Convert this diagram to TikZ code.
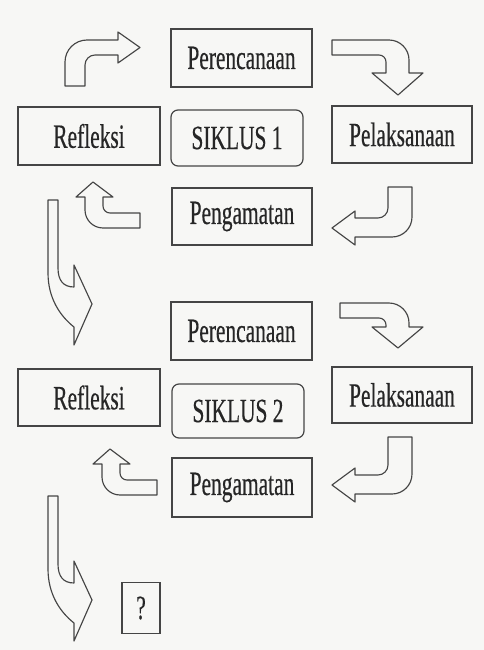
\documentclass[tikz,border=0pt]{standalone}
\usepackage{fontspec}
\newfontfamily\cond[FakeStretch=0.63,FakeBold=0.4]{Liberation Serif}
\definecolor{ln}{HTML}{454545}
\definecolor{bg}{HTML}{F7F7F5}
\definecolor{tx}{HTML}{262626}
\tikzset{
  box/.style={draw=ln, line width=1.2pt, text=tx, inner sep=0pt,
    font=\cond\fontsize{34}{36}\selectfont},
  rbox/.style={box, rounded corners=7pt},
  blk/.style={draw=ln, line width=1.15pt, line join=round}
}
\begin{document}
\begin{tikzpicture}[x=1pt,y=-1pt]
\useasboundingbox (0,0) rectangle (484,650);
\fill[bg] (0,0) rectangle (484,650);
% Siklus 1
\node[box, minimum width=141pt, minimum height=58pt] (p1) at (241.5,58) {Perencanaan};
\node[box, minimum width=142pt, minimum height=58pt] (r1) at (89,136) {Refleksi};
\node[rbox, minimum width=132pt, minimum height=56pt] (s1) at (237,138) {SIKLUS 1};
\node[box, minimum width=140pt, minimum height=57pt] (l1) at (402,134.5) {Pelaksanaan};
\node[box, minimum width=140pt, minimum height=57pt] (g1) at (242,216.5) {Pengamatan};
% Siklus 2
\node[box, minimum width=141pt, minimum height=58pt] (p2) at (241.5,331) {Perencanaan};
\node[box, minimum width=142pt, minimum height=57pt] (r2) at (89,397.5) {Refleksi};
\node[rbox, minimum width=132pt, minimum height=54pt] (s2) at (238,411) {SIKLUS 2};
\node[box, minimum width=140pt, minimum height=56pt] (l2) at (402,395) {Pelaksanaan};
\node[box, minimum width=140pt, minimum height=59pt] (g2) at (242,487.5) {Pengamatan};
\node[box, minimum width=38pt, minimum height=51pt, font=\cond\fontsize{34}{36}\selectfont] (q) at (141,608) {?};
% block arrows, cycle 1
\draw[blk] (65,86) -- (65,62) .. controls (65,49.85) and (74.85,40) .. (87,40) -- (118,40) -- (118,32) -- (140,47.5) -- (118,63) -- (118,55) -- (95,55) .. controls (89.48,55) and (85,59.48) .. (85,65) -- (85,86) -- cycle;
\draw[blk] (332,40) -- (389,40) .. controls (400,40) and (409,49) .. (409,60) -- (409,73) -- (423,73) -- (398,95) -- (372,73) -- (386,73) -- (386,62) .. controls (386,58.1) and (382.9,55) .. (379,55) -- (332,55) -- cycle;
\draw[blk] (388,187) -- (412,187) -- (412,217) .. controls (412,228.05) and (403.05,237) .. (392,237) -- (355,237) -- (355,245) -- (332,228) -- (355,211) -- (355,218) -- (378,218) .. controls (383.5,218) and (388,213.5) .. (388,208) -- cycle;
\draw[blk] (140,213) -- (110,213) .. controls (106.1,213) and (103,209.9) .. (103,206) -- (103,197) -- (113,197) -- (93,182) -- (76,197) -- (85,197) -- (85,210) .. controls (85,219.9) and (93.1,228) .. (103,228) -- (140,228) -- cycle;
\draw[blk] (48,200) -- (58,200) -- (58,268) .. controls (58,280) and (63,287) .. (74,287) -- (74,265) -- (92,304) -- (74,345) -- (74,327) .. controls (60,316) and (48,298) .. (48,273) -- cycle;
% block arrows, cycle 2
\draw[blk] (340,303) -- (389,303) .. controls (400,303) and (409,312) .. (409,323) -- (409,327) -- (423,327) -- (398,348) -- (372,327) -- (386,327) -- (386,325) .. controls (386,321.1) and (382.9,318) .. (379,318) -- (340,318) -- cycle;
\draw[blk] (388,437) -- (412,437) -- (412,474) .. controls (412,485.05) and (403.05,494) .. (392,494) -- (355,494) -- (355,502) -- (332,485) -- (355,468) -- (355,475) -- (378,475) .. controls (383.5,475) and (388,470.5) .. (388,465) -- cycle;
\draw[blk] (157,480) -- (127,480) .. controls (123.1,480) and (120,476.9) .. (120,473) -- (120,464) -- (130,464) -- (110,449) -- (93,464) -- (102,464) -- (102,477) .. controls (102,486.9) and (110.1,495) .. (120,495) -- (157,495) -- cycle;
\draw[blk] (48,496) -- (58,496) -- (58,564) .. controls (58,576) and (63,583) .. (74,583) -- (74,561) -- (92,600) -- (74,641) -- (74,623) .. controls (60,612) and (48,594) .. (48,569) -- cycle;
\end{tikzpicture}
\end{document}
